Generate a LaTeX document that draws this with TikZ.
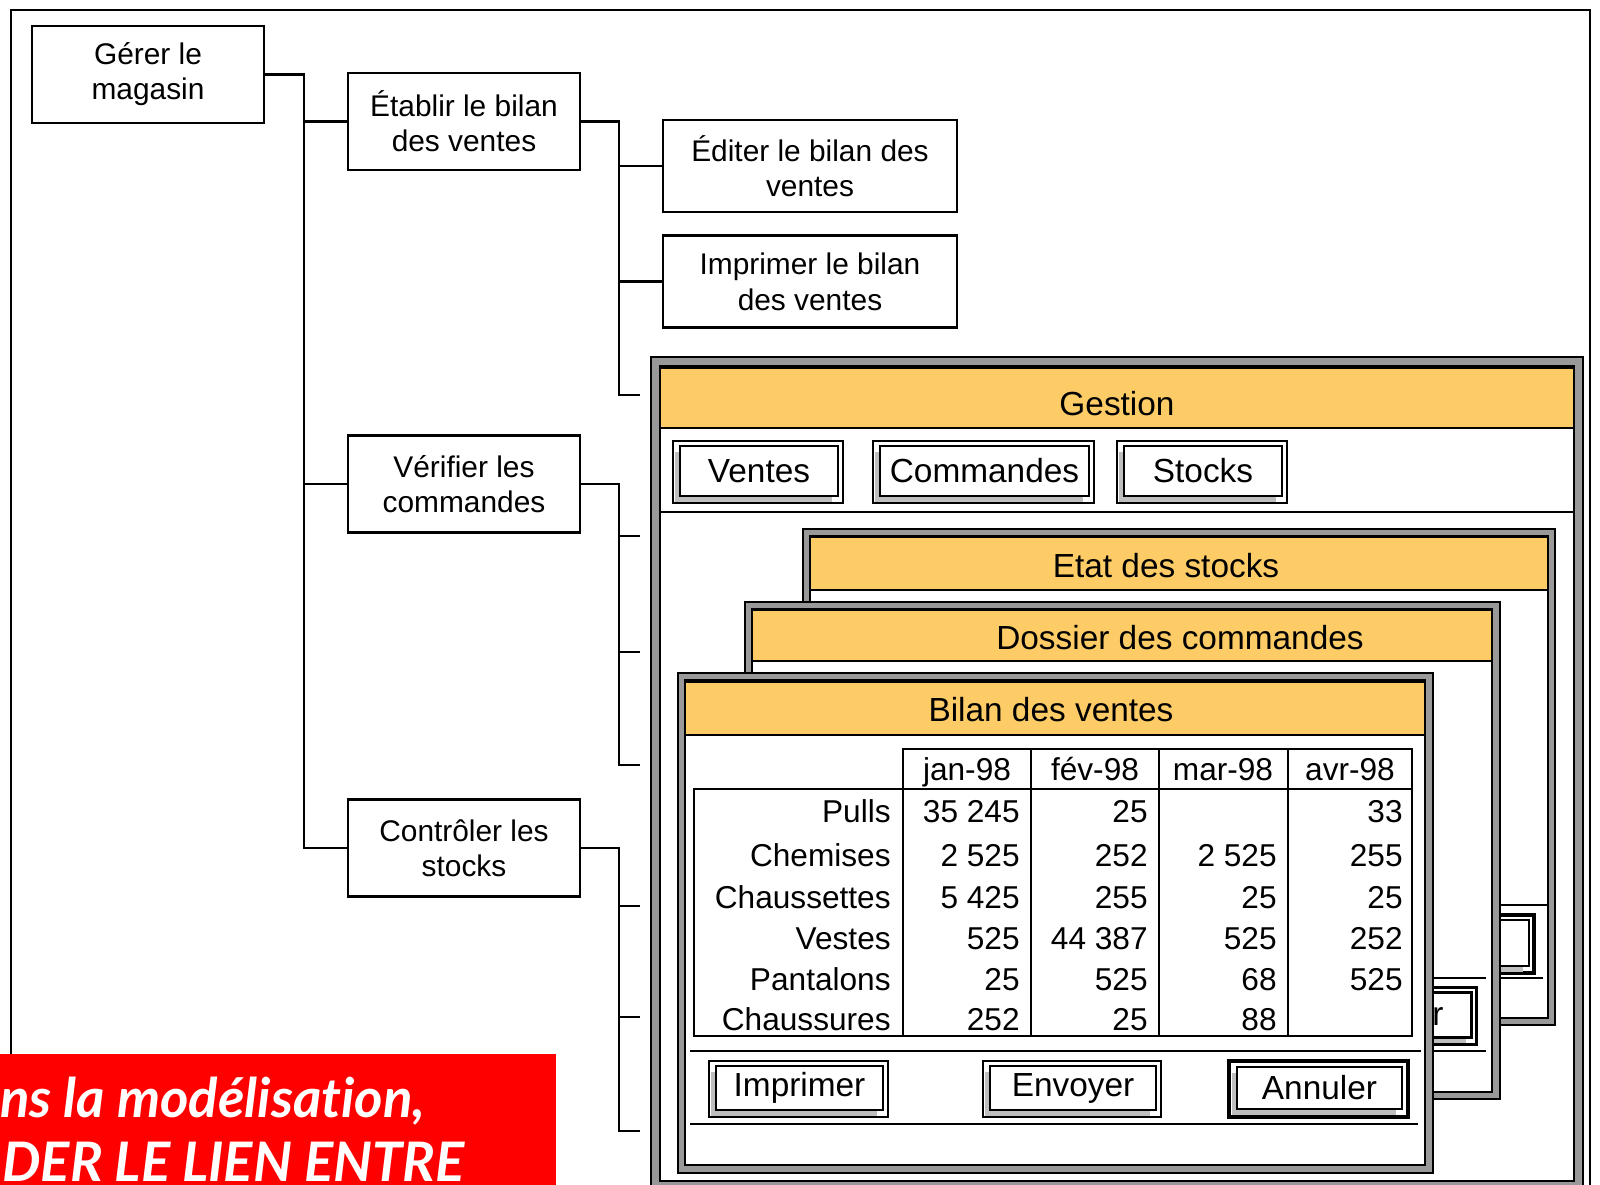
\documentclass[tikz,border=0pt]{standalone}
\usepackage{fontspec}
\setmainfont{Liberation Sans}
\newfontfamily\bannerfont{Lato}[Ligatures=NoCommon]
\usepackage{tikz}
\usetikzlibrary{positioning,shadows}
\definecolor{wingray}{RGB}{153,153,153}
\definecolor{wintitle}{RGB}{253,204,102}
\definecolor{btngray}{RGB}{190,190,190}
\definecolor{bannerred}{RGB}{255,0,0}
\tikzstyle{task} = [rectangle, draw=black, fill=white, line width=1.6pt, minimum width=4.64cm, minimum height=1.94cm, align=center, inner sep=0pt, font=\fontsize{17pt}{20pt}\selectfont]
\tikzstyle{link} = [line width=1.5pt]
\tikzstyle{winframe} = [draw=black, fill=wingray, line width=0.8pt]
\tikzstyle{winpane} = [draw=black, fill=white, line width=1.5pt]
\tikzstyle{titlebar} = [draw=black, fill=wintitle, line width=0.8pt]
\tikzstyle{wintext} = [inner sep=0pt, font=\fontsize{19pt}{22pt}\selectfont]
\tikzstyle{sepline} = [line width=1.1pt]
\tikzstyle{tablerule} = [line width=1.1pt]
\tikzstyle{btnframe} = [rectangle, draw=black, fill=white, line width=0.8pt, inner sep=0pt]
\tikzstyle{btnface} = [rectangle, draw=black, fill=white, line width=1.2pt, inner sep=0pt, font=\fontsize{19pt}{22pt}\selectfont, general shadow={fill=btngray, shadow xshift=-0.11cm, shadow yshift=-0.11cm}]
\tikzstyle{tabcell} = [anchor=east, inner sep=0pt, text height=13pt, text depth=0pt, font=\fontsize{18pt}{20pt}\selectfont]
\tikzstyle{banner} = [anchor=base west, inner sep=0pt, text=white, font=\bannerfont\fontsize{31pt}{35pt}\selectfont\bfseries\itshape]

\begin{document}
\begin{tikzpicture}[x=0.02cm, y=-0.02cm]
\useasboundingbox (0,0) rectangle (1600,1184);
\clip (0,0) rectangle (1600,1184);
\draw[line width=1pt] (11,10) rectangle (1590,1200);

% Task tree
\node (gerer) [task] at (148,74.5) {Gérer le\\magasin};
\node (etablir) [task] at (464,121.5) {Établir le bilan\\des ventes};
\node (editer) [task, minimum width=5.88cm, minimum height=1.84cm] at (810,166) {Éditer le bilan des\\ventes};
\node (imprimer) [task, minimum width=5.88cm, minimum height=1.84cm, below=0.42cm of editer] {Imprimer le bilan\\des ventes};
\node (verifier) [task] at (464,484) {Vérifier les\\commandes};
\node (controler) [task] at (464,848) {Contrôler les\\stocks};

\coordinate (t1) at (304,0);
\coordinate (t2) at (619,0);
\coordinate (g1) at (640,395);
\coordinate (v1) at (640,536);
\coordinate (v2) at (640,652);
\coordinate (v3) at (640,765);
\coordinate (c1) at (640,906);
\coordinate (c2) at (640,1017);
\coordinate (c3) at (640,1131);

\draw[link] (gerer.east) -| (t1 |- controler.west) -- (controler.west);
\draw[link] (t1 |- etablir.west) -- (etablir.west);
\draw[link] (t1 |- verifier.west) -- (verifier.west);
\draw[link] (etablir.east) -| (t2 |- g1) -- (g1);
\draw[link] (t2 |- editer.west) -- (editer.west);
\draw[link] (t2 |- imprimer.west) -- (imprimer.west);
\draw[link] (verifier.east) -| (t2 |- v3) -- (v3);
\draw[link] (t2 |- v1) -- (v1);
\draw[link] (t2 |- v2) -- (v2);
\draw[link] (controler.east) -| (t2 |- c3) -- (c3);
\draw[link] (t2 |- c1) -- (c1);
\draw[link] (t2 |- c2) -- (c2);

% Gestion window
\draw[winframe] (651,357) rectangle (1583,1192);
\draw[winpane] (660,366) rectangle (1574,1181);
\draw[titlebar] (660,368) rectangle (1574,428);
\node (gestion) [wintext] at (1117,404) {Gestion};
\draw[sepline] (660,512) -- (1574,512);
\node (bventes) [btnframe, minimum width=3.4cm, minimum height=1.24cm] at (758,472) {};
\node (ventes) [btnface, minimum width=3.16cm, minimum height=1cm] at ([shift={(1,-1)}]bventes.center) {Ventes};
\node (bcommandes) [btnframe, minimum width=4.42cm, minimum height=1.24cm] at (983.5,472) {};
\node (commandes) [btnface, minimum width=4.18cm, minimum height=1cm] at ([shift={(1,-1)}]bcommandes.center) {Commandes};
\node (bstocks) [btnframe, minimum width=3.4cm, minimum height=1.24cm] at (1202,472) {};
\node (stocks) [btnface, minimum width=3.16cm, minimum height=1cm] at ([shift={(1,-1)}]bstocks.center) {Stocks};

% Etat des stocks
\draw[winframe] (803,529) rectangle (1555,1025);
\draw[winpane] (810,536) rectangle (1548,1018);
\draw[titlebar] (810,537) rectangle (1548,590);
\node (etat) [wintext] at (1166,566) {Etat des stocks};
\draw[sepline] (820,905) -- (1548,905);
\draw[sepline] (820,978) -- (1543,978);
\node (betat) [btnframe, line width=2pt, minimum width=3.48cm, minimum height=1.16cm] at (1447,944) {};
\node (fetat) [btnface, minimum width=3.24cm, minimum height=0.92cm] at ([shift={(1,-1)}]betat.center) {};

% Dossier des commandes
\draw[winframe] (745,602) rectangle (1500,1099);
\draw[winpane] (752,609) rectangle (1492,1092);
\draw[titlebar] (752,610) rectangle (1492,661);
\node (dossier) [wintext] at (1180,638) {Dossier des commandes};
\draw[sepline] (760,978) -- (1486,978);
\draw[sepline] (760,1051) -- (1486,1051);
\node (bdossier) [btnframe, line width=2pt, minimum width=3.54cm, minimum height=1.14cm] at (1388,1016) {};
\node (fdossier) [btnface, minimum width=3.3cm, minimum height=0.9cm] at ([shift={(1,-1)}]bdossier.center) {};
\node (rdossier) [wintext, anchor=west] at (1432,1017) {r};

% Bilan des ventes
\draw[winframe] (678,673) rectangle (1433,1173);
\draw[winpane] (685,680) rectangle (1425,1165);
\draw[titlebar] (685,682) rectangle (1425,735);
\node (bilan) [wintext] at (1051,710) {Bilan des ventes};

\draw[tablerule, line width=1.5pt] (903,749) rectangle (1412,789);
\draw[tablerule, line width=1.5pt] (694,789) rectangle (1412,1036);
\foreach \x in {1031,1159,1288}
  \draw[tablerule] (\x,749) -- (\x,1036);
\draw[tablerule] (903,789) -- (903,1036);
\node (hjan) [tabcell, anchor=center] at (967,769) {jan-98};
\node (hfev) [tabcell, anchor=center] at (1095,769) {fév-98};
\node (hmar) [tabcell, anchor=center] at (1223,769) {mar-98};
\node (havr) [tabcell, anchor=center] at (1350,769) {avr-98};
\foreach \y/\lab/\ja/\fe/\ma/\av [count=\r] in
  {811/Pulls/35 245/25//33,
   855/Chemises/2 525/252/2 525/255,
   897/Chaussettes/5 425/255/25/25,
   938/Vestes/525/44 387/525/252,
   979/Pantalons/25/525/68/525,
   1019/Chaussures/252/25/88/}
{
  \node (lab\r) [tabcell] at (891,\y) {\lab};
  \node (jan\r) [tabcell] at (1020,\y) {\ja};
  \node (fev\r) [tabcell] at (1148,\y) {\fe};
  \node (mar\r) [tabcell] at (1277,\y) {\ma};
  \node (avr\r) [tabcell] at (1403,\y) {\av};
}

\draw[sepline] (690,1051) -- (1421,1051);
\draw[sepline] (690,1124) -- (1418,1124);
\node (bimprimer) [btnframe, minimum width=3.58cm, minimum height=1.12cm] at (798.5,1089) {};
\node (imprimerbtn) [btnface, minimum width=3.34cm, minimum height=0.88cm] at ([shift={(1,-1)}]bimprimer.center) {Imprimer};
\node (benvoyer) [btnframe, minimum width=3.56cm, minimum height=1.12cm] at (1072,1089) {};
\node (envoyer) [btnface, minimum width=3.32cm, minimum height=0.88cm] at ([shift={(1,-1)}]benvoyer.center) {Envoyer};
\node (bannuler) [btnframe, line width=2.2pt, minimum width=3.58cm, minimum height=1.12cm] at (1318.5,1089) {};
\node (annuler) [btnface, minimum width=3.3cm, minimum height=0.84cm] at ([shift={(1,-1)}]bannuler.center) {Annuler};

% Banner
\fill[bannerred] (-5,1054) rectangle (556,1195);
\node (ban1) [banner] at (0,1117) {ns la modélisation,};
\node (ban2) [banner] at (2,1181) {DER LE LIEN ENTRE};
\end{tikzpicture}
\end{document}
